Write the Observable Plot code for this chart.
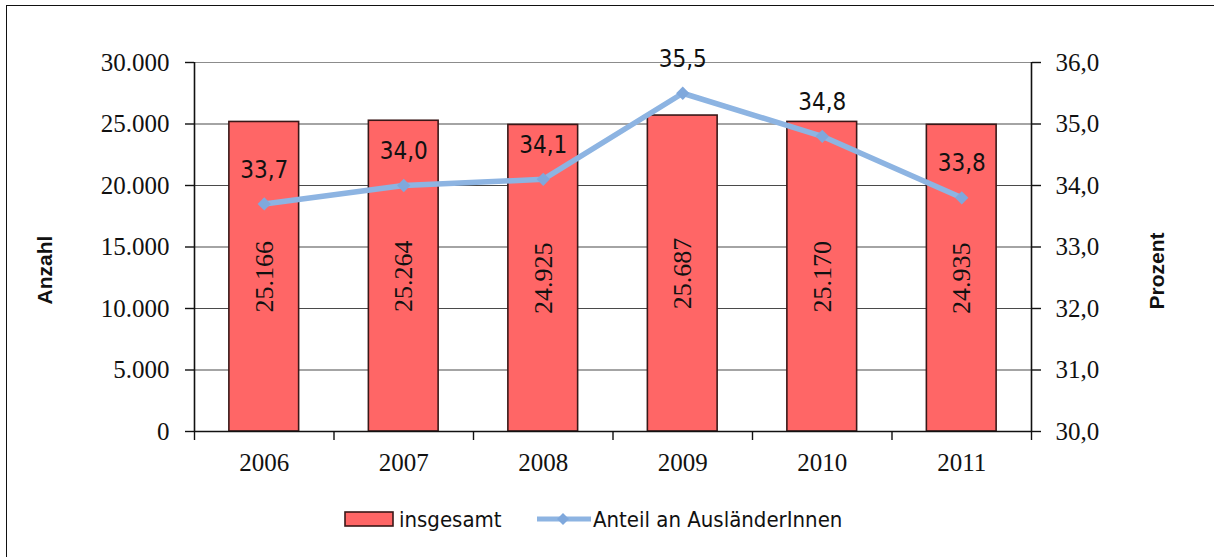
<!DOCTYPE html>
<html>
<head>
<meta charset="utf-8">
<script src="https://cdn.jsdelivr.net/npm/d3@7"></script>
<script src="https://cdn.jsdelivr.net/npm/@observablehq/plot@0.6"></script>
<style>
  html, body { margin: 0; padding: 0; background: #fff; }
  #wrap { position: relative; width: 1214px; height: 557px; overflow: hidden; background: #fff; }
  #frame { position: absolute; left: 6px; top: 5px; width: 1300px; height: 700px;
           border-left: 1.6px solid #111; border-top: 1.6px solid #111; }
  #chart { position: absolute; left: 0; top: 0; }
  #legend { position: absolute; left: 0; top: 502px; width: 1214px; height: 34px;
            font-family: "DejaVu Sans Condensed", "DejaVu Sans", sans-serif; font-stretch: condensed;
            font-size: 22px; color: #111; }
  .item { position: absolute; top: 0; display: flex; align-items: center; height: 34px; }
  .item svg { display: block; }
</style>
</head>
<body>
<div id="wrap">
  <div id="frame"></div>
  <div id="chart"></div>
  <div id="legend">
    <div class="item" style="left:344px">
      <svg width="52" height="18"><rect x="1" y="2" width="48" height="14" fill="#FF6666" stroke="#3a1818" stroke-width="1.6"></rect></svg>
      <span style="margin-left:3px">insgesamt</span>
    </div>
    <div class="item" style="left:536px">
      <svg width="56" height="18"><line x1="1" y1="9" x2="55" y2="9" stroke="#8DB4E2" stroke-width="5"></line><path d="M27,3 L33,9 L27,15 L21,9 Z" fill="#7FA8DC"></path></svg>
      <span style="margin-left:1px">Anteil an AusländerInnen</span>
    </div>
  </div>
</div>
<script>
// ---- data ----
const years = [2006, 2007, 2008, 2009, 2010, 2011];
const totals = [25166, 25264, 24925, 25687, 25170, 24935];
const shares = [33.7, 34.0, 34.1, 35.5, 34.8, 33.8];
const totalLabels = ["25.166", "25.264", "24.925", "25.687", "25.170", "24.935"];
const shareLabels = ["33,7", "34,0", "34,1", "35,5", "34,8", "33,8"];
const leftTicks = [0, 5000, 10000, 15000, 20000, 25000, 30000];
const leftTickLabels = ["0", "5.000", "10.000", "15.000", "20.000", "25.000", "30.000"];
const rightTicks = [30, 31, 32, 33, 34, 35, 36];
const rightTickLabels = ["30,0", "31,0", "32,0", "33,0", "34,0", "35,0", "36,0"];

const data = years.map((y, i) => ({year: y, total: totals[i], share: shares[i], tl: totalLabels[i], sl: shareLabels[i]}));

// map the percent axis (30..36) onto the count axis (0..30000)
const pMin = rightTicks[0], pMax = rightTicks[rightTicks.length - 1];
const yMax = leftTicks[leftTicks.length - 1];
const pToY = p => (p - pMin) / (pMax - pMin) * yMax;

const half = 0.5;
const boundaries = [...years.map(y => y - half), years[years.length - 1] + half];

const serif = "'Liberation Serif', 'DejaVu Serif', serif";
const sansC = "'DejaVu Sans Condensed', 'DejaVu Sans', sans-serif";
const sansB = "'Liberation Sans', Arial, sans-serif";

const chart = Plot.plot({
  width: 1214,
  height: 490,
  marginLeft: 194,
  marginRight: 183,
  marginTop: 62,
  marginBottom: 59,
  style: {background: "transparent", color: "#111", overflow: "visible"},
  x: {type: "linear", domain: [boundaries[0], boundaries[boundaries.length - 1]]},
  y: {domain: [0, yMax]},
  marks: [
    // gridlines
    Plot.ruleY(leftTicks.slice(0, -1), {stroke: "#4a4a4a", strokeWidth: 1.2, strokeOpacity: 1}),
    Plot.ruleY([yMax], {stroke: "#8c8c8c", strokeWidth: 1.2}),
    // bars
    Plot.rect(data, {x1: d => d.year - 0.25, x2: d => d.year + 0.25, y1: 0, y2: "total",
      fill: "#FF6666", stroke: "#3a1818", strokeWidth: 1.6}),
    // axis lines
    Plot.ruleX([boundaries[0]], {stroke: "#111", strokeWidth: 1.6}),
    Plot.ruleX([boundaries[boundaries.length - 1]], {stroke: "#111", strokeWidth: 1.6}),
    Plot.ruleY([0], {stroke: "#111", strokeWidth: 1.6}),
    // left axis
    Plot.axisY({ticks: leftTicks, tickFormat: (d, i) => leftTickLabels[leftTicks.indexOf(d)],
      tickSize: 9, tickPadding: 16, fontSize: 25, fontFamily: serif, label: null, stroke: "#111", strokeWidth: 1.4}),
    // right axis
    Plot.axisY({anchor: "right", ticks: leftTicks, tickFormat: (d) => rightTickLabels[leftTicks.indexOf(d)],
      tickSize: 9, tickPadding: 15, fontSize: 25, fontFamily: serif, label: null, stroke: "#111", strokeWidth: 1.4}),
    // x labels
    Plot.axisX({ticks: years, tickSize: 0, tickPadding: 22, tickFormat: d => String(d),
      fontSize: 25, fontFamily: serif, label: null}),
    // x boundary ticks
    Plot.axisX({ticks: boundaries, tickSize: 9, tickFormat: () => "", label: null, stroke: "#111", strokeWidth: 1.4}),
    // bar value labels
    Plot.text(data, {x: "year", y: d => d.total / 2, text: "tl", rotate: -90,
      fontSize: 26, fontFamily: serif, fill: "#111"}),
    // share line
    Plot.line(data, {x: "year", y: d => pToY(d.share), stroke: "#8DB4E2", strokeWidth: 5.5, strokeLinejoin: "miter"}),
    Plot.dot(data, {x: "year", y: d => pToY(d.share), symbol: "diamond2", r: 6, fill: "#7FA8DC", stroke: "none"}),
    Plot.text(data, {x: "year", y: d => pToY(d.share), text: "sl", dy: -34,
      fontSize: 24, fontFamily: sansC, fill: "#111"}),
    // axis titles
    Plot.text(["Anzahl"], {frameAnchor: "left", textAnchor: "middle", dx: -149, dy: 23, rotate: -90, text: d => d,
      fontSize: 21, fontWeight: "bold", fontFamily: sansB, fill: "#111"}),
    Plot.text(["Prozent"], {frameAnchor: "right", textAnchor: "middle", dx: 126, dy: 24, rotate: -90, text: d => d,
      fontSize: 21, fontWeight: "bold", fontFamily: sansB, fill: "#111"})
  ]
});
document.getElementById("chart").appendChild(chart);
</script>
</body>
</html>
